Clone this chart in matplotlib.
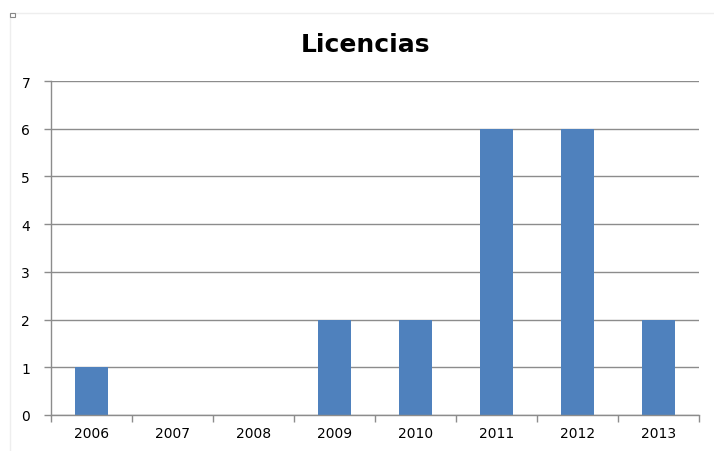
import matplotlib
matplotlib.use("Agg")
import matplotlib.pyplot as plt
from matplotlib.patches import Rectangle
import numpy as np

years = ["2006", "2007", "2008", "2009", "2010", "2011", "2012", "2013"]
licencias = [1, 0, 0, 2, 2, 6, 6, 2]
y_ticks = [0, 1, 2, 3, 4, 5, 6, 7]

BAR_COLOR = "#4F81BD"
GRID_COLOR = "#8C8C8C"


def main():
    fig = plt.figure(figsize=(7.14, 4.52), dpi=100)
    ax = fig.add_axes([51 / 714, 1 - 416 / 452, 648 / 714, 334 / 452])

    x = np.arange(len(years))
    ax.bar(x, licencias, width=0.4, color=BAR_COLOR, zorder=3)

    ax.set_xlim(-0.5, len(years) - 0.5)
    ax.set_ylim(0, 7)
    ax.set_yticks(y_ticks)
    ax.set_yticklabels([str(v) for v in y_ticks])
    ax.yaxis.grid(True, color=GRID_COLOR, linewidth=1.0, zorder=0)

    # category labels centred, tick marks between categories
    ax.set_xticks(x)
    ax.set_xticklabels(years)
    ax.tick_params(axis="x", length=0, pad=8, labelsize=10)
    ax.set_xticks(np.arange(-0.5, len(years)), minor=True)
    ax.tick_params(axis="x", which="minor", length=5, color=GRID_COLOR, width=1)
    ax.tick_params(axis="y", length=5, color=GRID_COLOR, width=1, pad=10, labelsize=10)

    for side in ["top", "right"]:
        ax.spines[side].set_visible(False)
    for side in ["left", "bottom"]:
        ax.spines[side].set_color(GRID_COLOR)
        ax.spines[side].set_linewidth(1.0)
        ax.spines[side].set_zorder(4)

    fig.text(366 / 714, 1 - 45 / 452, "Licencias", ha="center", va="center",
             fontsize=18, fontweight="bold", color="black")

    # faint chart-area border and the little handle in the corner
    fig.patches.append(Rectangle((10 / 714, -0.1), 1.0, 1 - 14 / 452 + 0.1,
                                 transform=fig.transFigure, fill=False,
                                 edgecolor="#EEEEEE", linewidth=1))
    fig.patches.append(Rectangle((10 / 714, 1 - 18 / 452), 5 / 714, 4 / 452,
                                 transform=fig.transFigure, facecolor="white",
                                 edgecolor="#888888", linewidth=0.8))

    fig.savefig("out.png", dpi=100)


if __name__ == "__main__":
    main()
